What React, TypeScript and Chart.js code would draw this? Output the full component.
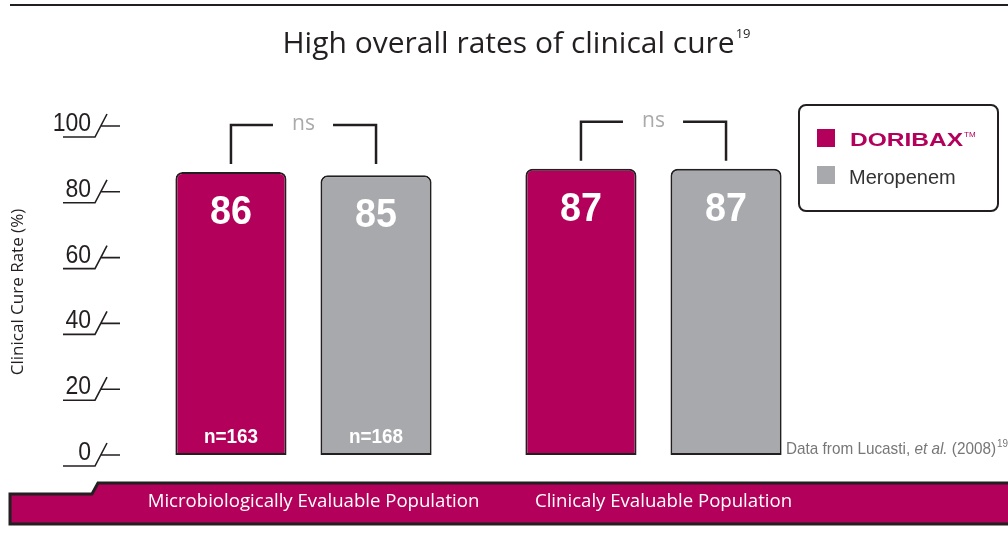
import React, { useEffect, useRef } from "react";
import { Chart, registerables } from "chart.js";

Chart.register(...registerables);

// ---- data ----
const categories = ["Microbiologically Evaluable Population", "Clinicaly Evaluable Population"];
const seriesNames = ["DORIBAX", "Meropenem"];
const doribaxValues = [86, 87];
const meropenemValues = [85, 87];
const doribaxN = ["n=163", ""];
const meropenemN = ["n=168", ""];
const significance = ["ns", "ns"];
const yTicks = [0, 20, 40, 60, 80, 100];
const titleText = "High overall rates of clinical cure";
const titleRef = "19";
const yAxisTitle = "Clinical Cure Rate (%)";
const footnoteParts = ["Data from Lucasti, ", "et al.", " (2008)"];
const footnoteRef = "19";

// ---- styles ----
const MAGENTA = "#B3005A";
const GRAY = "#A7A9AC";
const DARK = "#231F20";
const SANS = "'Liberation Sans', Arial, sans-serif";
const OPEN = "'Open Sans', sans-serif";

// draw text horizontally condensed
function narrowText(
  ctx: CanvasRenderingContext2D,
  text: string,
  x: number,
  y: number,
  font: string,
  sx: number,
  align: CanvasTextAlign
) {
  ctx.save();
  ctx.font = font;
  ctx.textAlign = align;
  ctx.translate(x, y);
  ctx.scale(sx, 1);
  ctx.fillText(text, 0, 0);
  const w = ctx.measureText(text).width * sx;
  ctx.restore();
  return w;
}

const decorPlugin = {
  id: "decor",
  afterDraw(chart: any) {
    const ctx: CanvasRenderingContext2D = chart.ctx;
    const yScale = chart.scales.y;
    const xScale = chart.scales.x;
    ctx.save();

    // top rule
    ctx.strokeStyle = DARK;
    ctx.lineWidth = 2;
    ctx.beginPath();
    ctx.moveTo(10, 5);
    ctx.lineTo(1008, 5);
    ctx.stroke();

    // title with superscript
    ctx.fillStyle = DARK;
    ctx.textBaseline = "alphabetic";
    ctx.textAlign = "left";
    ctx.font = `30px ${OPEN}`;
    const tw = ctx.measureText(titleText).width;
    ctx.font = `13px ${OPEN}`;
    const sw = ctx.measureText(titleRef).width;
    const tx = 516 - (tw + sw) / 2;
    ctx.font = `30px ${OPEN}`;
    ctx.fillText(titleText, tx, 53);
    ctx.font = `13px ${OPEN}`;
    ctx.fillText(titleRef, tx + tw + 1, 38);

    // y axis title
    ctx.save();
    ctx.translate(18, 292);
    ctx.rotate(-Math.PI / 2);
    ctx.textAlign = "center";
    ctx.textBaseline = "middle";
    ctx.font = `17px ${OPEN}`;
    ctx.fillStyle = DARK;
    ctx.fillText(yAxisTitle, 0, 0);
    ctx.restore();

    // y ticks with decorative marks
    ctx.lineWidth = 1.6;
    ctx.strokeStyle = DARK;
    ctx.fillStyle = DARK;
    ctx.textBaseline = "alphabetic";
    yTicks.forEach((v) => {
      const y = yScale.getPixelForValue(v);
      narrowText(ctx, String(v), 91, y + 5, `25px ${SANS}`, 0.92, "right");
      ctx.beginPath();
      ctx.moveTo(63, y + 11);
      ctx.lineTo(95, y + 11);
      ctx.lineTo(107, y - 12);
      ctx.moveTo(101, y);
      ctx.lineTo(120, y);
      ctx.stroke();
    });

    // bar labels
    const m0 = chart.getDatasetMeta(0);
    const m1 = chart.getDatasetMeta(1);
    const nLabels = [doribaxN, meropenemN];
    [m0, m1].forEach((meta: any, di: number) => {
      meta.data.forEach((el: any, i: number) => {
        ctx.fillStyle = "#FFFFFF";
        ctx.textBaseline = "alphabetic";
        narrowText(ctx, String(chart.data.datasets[di].data[i]), el.x, el.y + 52, `bold 41px ${SANS}`, 0.92, "center");
        const n = nLabels[di][i];
        if (n) {
          narrowText(ctx, n, el.x, el.base - 12, `bold 21px ${SANS}`, 0.9, "center");
        }
      });
    });

    // significance brackets
    significance.forEach((s, i) => {
      const a = m0.data[i];
      const b = m1.data[i];
      const top0 = Math.min(a.y, b.y);
      const bottom = top0 - 8;
      const top = bottom - 39;
      ctx.strokeStyle = DARK;
      ctx.lineWidth = 2.5;
      ctx.beginPath();
      ctx.moveTo(a.x, bottom);
      ctx.lineTo(a.x, top);
      ctx.lineTo(a.x + 42, top);
      ctx.moveTo(b.x - 43, top);
      ctx.lineTo(b.x, top);
      ctx.lineTo(b.x, bottom);
      ctx.stroke();
      ctx.fillStyle = "#AAAAAA";
      ctx.font = `21px ${OPEN}`;
      ctx.textAlign = "center";
      ctx.textBaseline = "alphabetic";
      ctx.fillText(s, (a.x + b.x) / 2, top + 5);
    });

    // legend
    ctx.fillStyle = "#FFFFFF";
    ctx.strokeStyle = DARK;
    ctx.lineWidth = 2;
    ctx.beginPath();
    (ctx as any).roundRect(799, 105, 199, 106, 7);
    ctx.fill();
    ctx.stroke();
    const colors = [MAGENTA, GRAY];
    ctx.fillStyle = colors[0];
    ctx.fillRect(817, 129, 18, 18);
    ctx.fillStyle = colors[1];
    ctx.fillRect(817, 166, 18, 18);
    // DORIBAX (wide bold brand)
    ctx.font = `bold 19px ${SANS}`;
    const dw = ctx.measureText(seriesNames[0]).width;
    ctx.fillStyle = MAGENTA;
    ctx.textBaseline = "alphabetic";
    narrowText(ctx, seriesNames[0], 850, 146, `bold 19px ${SANS}`, 113 / dw, "left");
    ctx.font = `8px ${SANS}`;
    ctx.textAlign = "left";
    ctx.fillText("TM", 964, 137);
    ctx.fillStyle = "#333333";
    ctx.font = `20px ${SANS}`;
    ctx.fillText(seriesNames[1], 849, 184);

    // footnote
    ctx.fillStyle = "#777777";
    ctx.textBaseline = "alphabetic";
    let fx = 786;
    const fy = 454;
    footnoteParts.forEach((p, i) => {
      const f = i === 1 ? `italic 17px ${SANS}` : `17px ${SANS}`;
      fx += narrowText(ctx, p, fx, fy, f, 0.9, "left");
    });
    narrowText(ctx, footnoteRef, fx + 1, fy - 7, `11px ${SANS}`, 0.9, "left");

    // bottom band
    ctx.fillStyle = MAGENTA;
    ctx.strokeStyle = DARK;
    ctx.lineWidth = 3;
    ctx.beginPath();
    ctx.moveTo(10, 494);
    ctx.lineTo(92, 494);
    ctx.lineTo(98, 483);
    ctx.lineTo(1012, 483);
    ctx.lineTo(1012, 524);
    ctx.lineTo(10, 524);
    ctx.closePath();
    ctx.fill();
    ctx.stroke();

    ctx.fillStyle = "#FFFFFF";
    ctx.font = `18.6px ${OPEN}`;
    ctx.textAlign = "center";
    ctx.textBaseline = "alphabetic";
    categories.forEach((c, i) => {
      ctx.fillText(c, xScale.getPixelForValue(i) + 10, 507);
    });

    ctx.restore();
  },
};

export default function App() {
  const ref = useRef<HTMLCanvasElement | null>(null);
  useEffect(() => {
    if (!ref.current) return;
    const chart = new Chart(ref.current, {
      type: "bar",
      data: {
        labels: categories,
        datasets: [
          {
            label: seriesNames[0],
            data: doribaxValues,
            backgroundColor: MAGENTA,
            borderColor: DARK,
            borderWidth: 2,
            borderSkipped: false,
            borderRadius: { topLeft: 7, topRight: 7, bottomLeft: 0, bottomRight: 0 },
          },
          {
            label: seriesNames[1],
            data: meropenemValues,
            backgroundColor: GRAY,
            borderColor: DARK,
            borderWidth: 2,
            borderSkipped: false,
            borderRadius: { topLeft: 7, topRight: 7, bottomLeft: 0, bottomRight: 0 },
          },
        ],
      },
      options: {
        responsive: false,
        animation: false,
        devicePixelRatio: 1,
        events: [],
        layout: { padding: { left: 128.5, right: 179.5, top: 126, bottom: 84 } },
        datasets: { bar: { categoryPercentage: 0.829, barPercentage: 0.766 } },
        scales: {
          x: { display: false },
          y: { display: false, min: 0, max: 100 },
        },
        plugins: {
          legend: { display: false },
          title: { display: false },
          tooltip: { enabled: false },
        },
      },
      plugins: [decorPlugin],
    });
    return () => chart.destroy();
  }, []);
  return (
    <div style={{ position: "fixed", left: 0, top: 0, width: 1008, height: 539, background: "#fff" }}>
      <canvas ref={ref} width={1008} height={539} style={{ width: 1008, height: 539, display: "block" }} />
    </div>
  );
}
